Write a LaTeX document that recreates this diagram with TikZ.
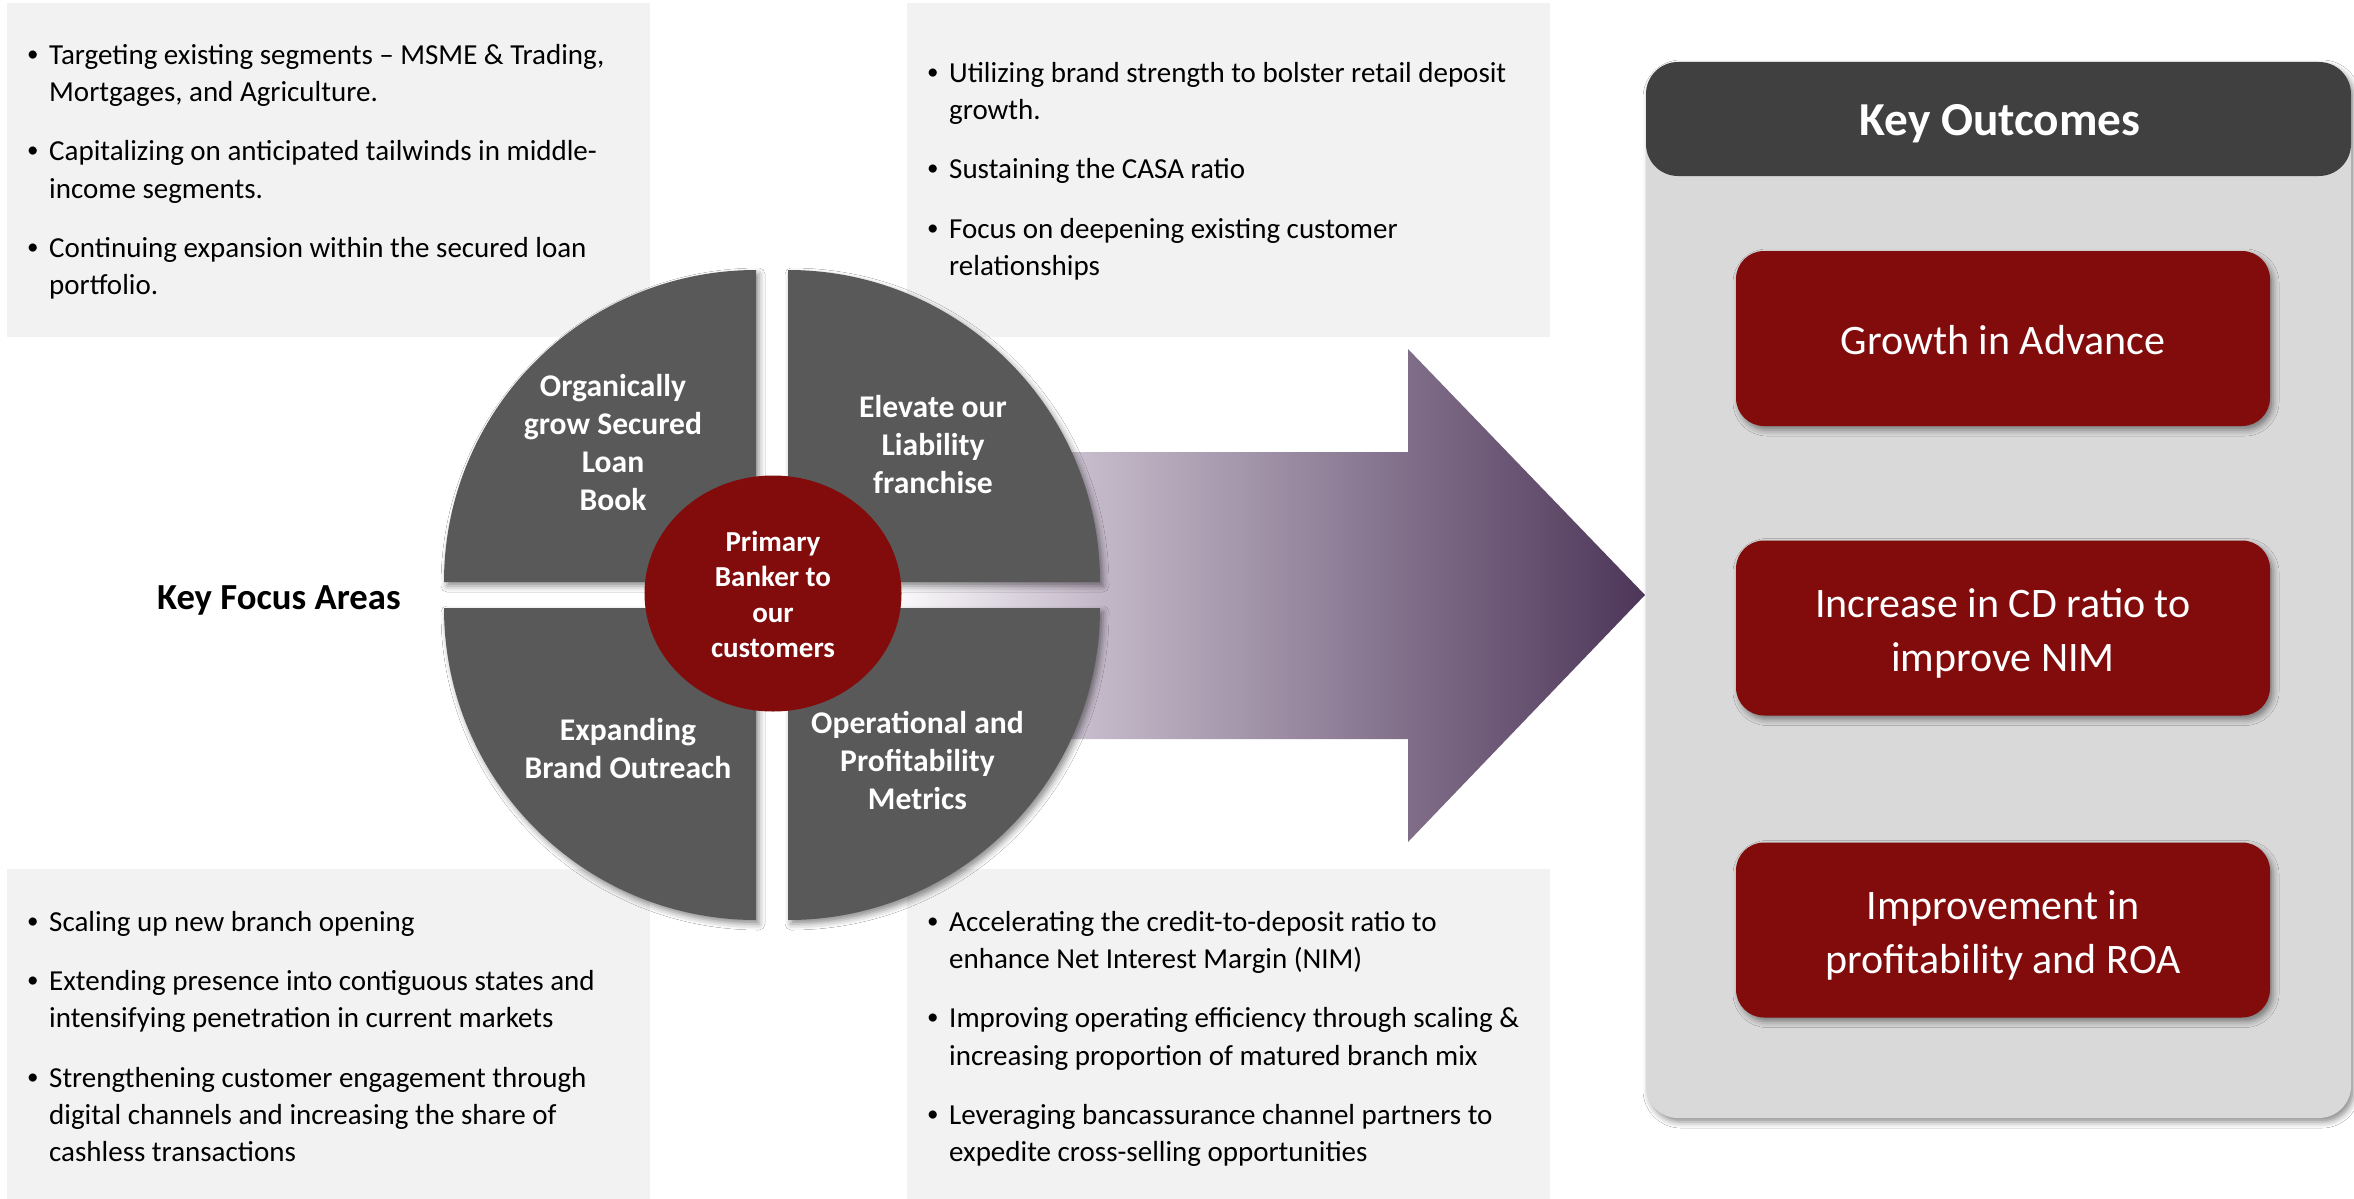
\documentclass[tikz,border=0pt]{standalone}
\usepackage{fontspec}
\setmainfont{Carlito}
\usetikzlibrary{shadows.blur,shapes.geometric}
\definecolor{boxgray}{HTML}{F2F2F2}
\definecolor{quad}{HTML}{595959}
\definecolor{darkred}{HTML}{820B0B}
\definecolor{hdr}{HTML}{404040}
\definecolor{panel}{HTML}{D9D9D9}
\definecolor{arrL}{HTML}{C4B9C9}
\definecolor{arrR}{HTML}{4D3659}
\pgfdeclarehorizontalshading{arrowshade}{100bp}{color(0bp)=(white); color(25bp)=(white); color(39bp)=(arrL); color(75bp)=(arrR); color(100bp)=(arrR)}
\newcommand\bul{\makebox[22pt][l]{\raisebox{3pt}{\fontsize{23}{23}\selectfont •}}}
\newcommand\ind{\hspace*{22pt}}
\newcommand\rstrut{\rule[-10.8pt]{0pt}{54pt}}
\newcommand\cstrut{\rule[-7pt]{0pt}{35.5pt}}
\tikzset{
  btext/.style={font=\fontsize{29}{37.3}\selectfont, align=left, anchor=north west, inner sep=0pt, text=black},
  qlabel/.style={font=\bfseries\fontsize{31.6}{38}\selectfont, align=center, text=white, inner sep=0pt},
  softshadow/.style={blur shadow={shadow xshift=3pt, shadow yshift=-4pt, shadow blur radius=6pt, shadow opacity=45}},
  quadfill/.style={fill=quad, softshadow},
  outbox/.style={rounded corners=28pt, fill=darkred, minimum width=534pt, minimum height=175pt, text=white, align=center, font=\fontsize{42}{54}\selectfont, inner sep=0pt, softshadow}
}
\begin{document}
\begin{tikzpicture}[x=1pt,y=-1pt]
\useasboundingbox (0,0) rectangle (2354,1199);
\fill[white] (0,0) rectangle (2354,1199);
% grey text panels
\fill[boxgray] (7,3) rectangle (650,337);
\fill[boxgray] (907,3) rectangle (1550,337);
\fill[boxgray] (7,869) rectangle (650,1199);
\fill[boxgray] (907,869) rectangle (1550,1199);
% big arrow
\shade[shading=arrowshade] (880,452) -- (1408,452) -- (1408,349) -- (1645,595) -- (1408,842) -- (1408,739) -- (880,739) -- cycle;
% pie quadrants
\fill[quadfill] (756,582) -- (444,582) arc[start angle=180, end angle=270, radius=312] -- cycle;
\fill[quadfill] (788,582) -- (788,270) arc[start angle=270, end angle=360, radius=312] -- cycle;
\fill[quadfill] (788,608) -- (1100,608) arc[start angle=0, end angle=90, radius=312] -- cycle;
\fill[quadfill] (756,608) -- (756,920) arc[start angle=90, end angle=180, radius=312] -- cycle;
% centre
\node[ellipse, fill=darkred, minimum width=257pt, minimum height=236pt, inner sep=0pt, text=white, align=center, font=\bfseries\fontsize{29}{35.5}\selectfont] (core) at (773,593.5) {\cstrut Primary\\\cstrut Banker to\\\cstrut our\\\cstrut customers};
% quadrant labels
\node[qlabel] (qul) at (613,446) {\strut Organically\\\strut grow Secured\\\strut Loan\\\strut Book};
\node[qlabel] (qur) at (933,447.4) {\strut Elevate our\\\strut Liability\\\strut franchise};
\node[qlabel] (qll) at (628,751.4) {\strut Expanding\\\strut Brand Outreach};
\node[qlabel] (qlr) at (917.5,764) {\strut Operational and\\\strut Profitability\\\strut Metrics};
\node[font=\bfseries\fontsize{36.7}{44}\selectfont, anchor=base west, inner sep=0pt] (kfa) at (157,609) {Key Focus Areas};
% bullet texts
\node[btext] (tltext) at (27,37.9) {\strut\bul Targeting existing segments – MSME \& Trading,\\
\strut\ind Mortgages, and Agriculture.\\[22pt]
\strut\bul Capitalizing on anticipated tailwinds in middle-\\
\strut\ind income segments.\\[22pt]
\strut\bul Continuing expansion within the secured loan\\
\strut\ind portfolio.};
\node[btext] (trtext) at (927,55.9) {\strut\bul Utilizing brand strength to bolster retail deposit\\
\strut\ind growth.\\[22pt]
\strut\bul Sustaining the CASA ratio\\[22pt]
\strut\bul Focus on deepening existing customer\\
\strut\ind relationships};
\node[btext] (bltext) at (27,904.9) {\strut\bul Scaling up new branch opening\\[22pt]
\strut\bul Extending presence into contiguous states and\\
\strut\ind intensifying penetration in current markets\\[22pt]
\strut\bul Strengthening customer engagement through\\
\strut\ind digital channels and increasing the share of\\
\strut\ind cashless transactions};
\node[btext] (brtext) at (927,904.9) {\strut\bul Accelerating the credit-to-deposit ratio to\\
\strut\ind enhance Net Interest Margin (NIM)\\[22pt]
\strut\bul Improving operating efficiency through scaling \&\\
\strut\ind increasing proportion of matured branch mix\\[22pt]
\strut\bul Leveraging bancassurance channel partners to\\
\strut\ind expedite cross-selling opportunities};
% key outcomes panel
\fill[panel, rounded corners=32pt, softshadow] (1646,62) rectangle (2351,1118);
\fill[hdr, rounded corners=32pt] (1646,62) rectangle (2351,176);
\node[font=\bfseries\fontsize{47.3}{56}\selectfont, text=white, anchor=base, inner sep=0pt] (kohead) at (2000,135) {Key Outcomes};
\node[outbox] (out1) at (2003,338.5) {\rstrut Growth in Advance};
\node[outbox] (out2) at (2003,628) {\rstrut Increase in CD ratio to\\\rstrut improve NIM};
\node[outbox] (out3) at (2003,930) {\rstrut Improvement in\\\rstrut profitability and ROA};
\end{tikzpicture}
\end{document}
